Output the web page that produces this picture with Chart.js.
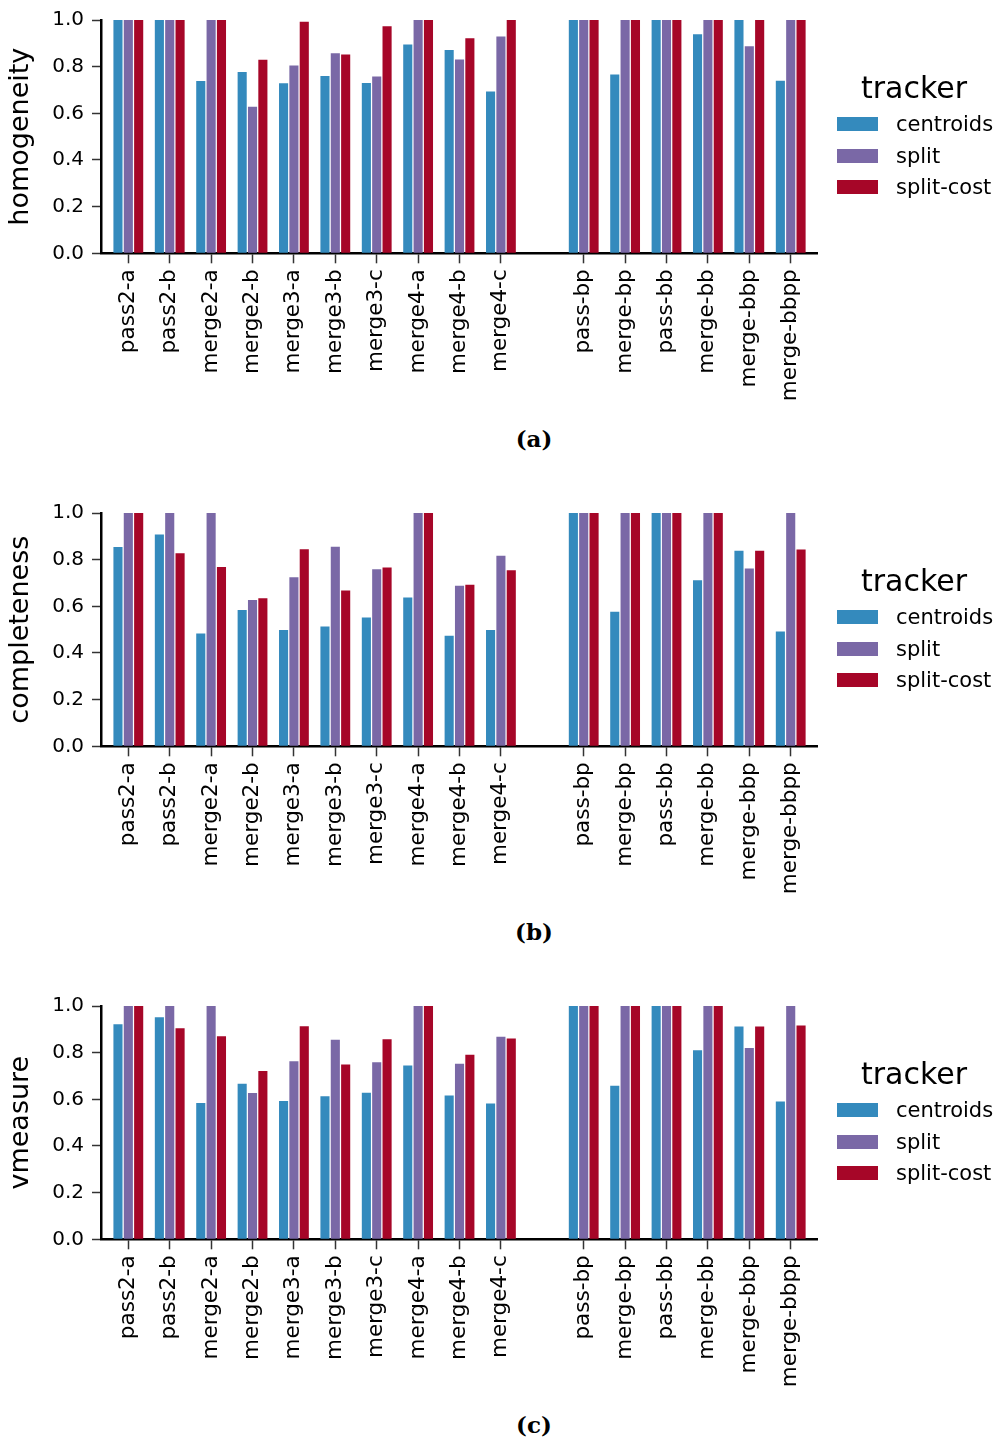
<!DOCTYPE html>
<html>
<head>
<meta charset="utf-8">
<script src="https://cdn.jsdelivr.net/npm/chart.js@4"></script>
<style>
body{margin:0;background:#fff;font-family:"DejaVu Sans",sans-serif;}
.panel{position:relative;width:998px;height:493px;}
.panel canvas{position:absolute;left:0;top:0;}
.caption{position:absolute;left:484px;width:100px;top:425px;text-align:center;font-family:"DejaVu Serif",serif;font-weight:bold;font-size:23px;color:#000;}
.legend{position:absolute;left:830px;top:66px;width:168px;color:#000;}
.legend .title{position:absolute;left:0;top:0;width:168px;text-align:center;font-size:30px;line-height:44px;}
.legend .item{position:absolute;left:7px;height:24px;font-size:21px;line-height:24px;}
.legend .sw{position:absolute;left:0;top:5px;width:41px;height:14px;}
.legend .lbl{position:absolute;left:59px;top:0;white-space:nowrap;}
</style>
</head>
<body>

<div class="panel" id="pa"><canvas id="chartA" width="998" height="420"></canvas><div class="caption">(a)</div></div>
<div class="panel" id="pb"><canvas id="chartB" width="998" height="420"></canvas><div class="caption">(b)</div></div>
<div class="panel" id="pc" style="height:457px"><canvas id="chartC" width="998" height="420"></canvas><div class="caption">(c)</div></div>

<script>
// categories (index 10 is the empty gap between the two groups)
const categories = ["pass2-a","pass2-b","merge2-a","merge2-b","merge3-a","merge3-b","merge3-c","merge4-a","merge4-b","merge4-c","",
  "pass-bp","merge-bp","pass-bb","merge-bb","merge-bbp","merge-bbpp"];

const trackers = ["centroids","split","split-cost"];
const colors = ["#348ABD","#7A68A6","#A60628"];

const yTicks = [0.0,0.2,0.4,0.6,0.8,1.0];

// -----------------------------
// homogeneity
// -----------------------------
const homCentroids = [1,1,0.739,0.777,0.729,0.760,0.730,0.895,0.871,0.693,null,1,0.766,1,0.939,1,0.740];
const homSplit     = [1,1,1,0.628,0.805,0.857,0.758,1,0.831,0.929,null,1,1,1,1,0.888,1];
const homSplitCost = [1,1,1,0.830,0.993,0.852,0.973,1,0.922,1,null,1,1,1,1,1,1];

// -----------------------------
// completeness
// -----------------------------
const comCentroids = [0.854,0.908,0.484,0.584,0.499,0.513,0.552,0.638,0.474,0.499,null,1,0.577,1,0.712,0.838,0.492];
const comSplit     = [1,1,1,0.627,0.725,0.855,0.759,1,0.688,0.817,null,1,1,1,1,0.762,1];
const comSplitCost = [1,0.827,0.769,0.635,0.845,0.668,0.766,1,0.692,0.755,null,1,1,1,1,0.838,0.844];

// -----------------------------
// vmeasure
// -----------------------------
const vmCentroids = [0.922,0.952,0.584,0.667,0.593,0.613,0.628,0.745,0.616,0.582,null,1,0.658,1,0.810,0.912,0.591];
const vmSplit     = [1,1,1,0.627,0.763,0.855,0.759,1,0.753,0.868,null,1,1,1,1,0.820,1];
const vmSplitCost = [1,0.905,0.870,0.721,0.913,0.749,0.858,1,0.791,0.861,null,1,1,1,1,0.912,0.916];


function toPoints(values){
  return values.map((v,i) => ({x:i, y:v})).filter(p => p.y !== null);
}

function addLegend(panelId){
  const box = document.createElement("div");
  box.className = "legend";
  let html = '<div class="title">tracker</div>';
  trackers.forEach((name,i) => {
    const top = 46 + i*31.5;
    html += '<div class="item" style="top:'+top+'px"><div class="sw" style="background:'+colors[i]+'"></div><div class="lbl">'+name+'</div></div>';
  });
  box.innerHTML = html;
  document.getElementById(panelId).appendChild(box);
}

function makeChart(canvasId, panelId, yTitle, series){

new Chart(document.getElementById(canvasId), {

type: "bar",

data: {
datasets: series.map((values,i) => ({
label: trackers[i],
data: toPoints(values),
backgroundColor: colors[i],
borderWidth: 0,
categoryPercentage: 0.75,
barPercentage: 0.88
}))
},

options: {
responsive: false,
animation: false,
layout: {
padding: {left:0, right:181, top:18.7, bottom:0}
},
plugins: {
legend: {display:false},
tooltip: {enabled:false}
},
scales: {
x: {
type: "linear",
min: -0.66,
max: 16.635,
offset: false,
afterFit: function(scale){ scale.height = 166.7; },
grid: {
drawOnChartArea: false,
offset: false,
tickLength: 10,
tickWidth: 1.5,
tickColor: function(ctx){
return (ctx.tick && ctx.tick.value === 10) ? "rgba(0,0,0,0)" : "#333";
}
},
border: {display:true, color:"#000", width:2.5},
ticks: {
stepSize: 1,
includeBounds: false,
autoSkip: false,
maxRotation: 90,
minRotation: 90,
padding: 6,
color: "#000",
font: {family:"DejaVu Sans", size:21.5},
callback: function(value){
return categories[value] !== undefined ? categories[value] : "";
}
}
},
y: {
min: 0,
max: 1,
afterFit: function(scale){ scale.width = 101; },
afterBuildTicks: function(scale){
scale.ticks = yTicks.map(v => ({value:v}));
},
grid: {
drawOnChartArea: false,
tickLength: 9,
tickWidth: 1.5,
tickColor: "#333"
},
border: {display:true, color:"#000", width:2.5},
ticks: {
padding: 8,
color: "#000",
font: {family:"DejaVu Sans", size:20},
callback: function(value){ return value.toFixed(1); }
},
title: {
display: true,
text: yTitle,
color: "#000",
font: {family:"DejaVu Sans", size:27},
padding: {top:5, bottom:0}
}
}
}
}

});

addLegend(panelId);
}

makeChart("chartA", "pa", "homogeneity", [homCentroids, homSplit, homSplitCost]);
makeChart("chartB", "pb", "completeness", [comCentroids, comSplit, comSplitCost]);
makeChart("chartC", "pc", "vmeasure", [vmCentroids, vmSplit, vmSplitCost]);
</script>
</body>
</html>
